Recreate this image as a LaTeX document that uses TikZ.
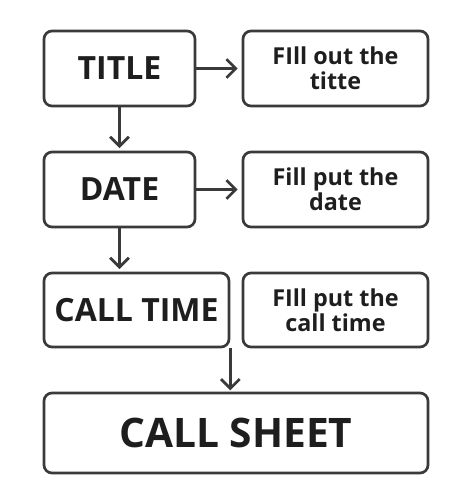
\documentclass[tikz,border=0pt]{standalone}
\usepackage{fontspec}
\setmainfont{Open Sans}
\usetikzlibrary{arrows.meta}
\definecolor{inkline}{RGB}{58,58,58}
\definecolor{inktext}{RGB}{30,30,30}
\tikzset{every picture/.style={line width=2pt}}
\tikzset{
	stepbox/.style={draw=inkline, rounded corners=6pt, align=center, text=inktext, inner sep=0pt},
	bigbox/.style={stepbox, minimum width=113.25pt, minimum height=56.25pt, font=\fontsize{24}{26}\selectfont\bfseries},
	notebox/.style={stepbox, minimum width=138.75pt, minimum height=56.25pt, font=\fontsize{17.5}{19}\selectfont\bfseries},
	flow/.style={draw=inkline, -{Straight Barb[length=7pt,width=14pt,line width=2pt]}},
}

\begin{document}
\begin{tikzpicture}[x=0.75pt,y=0.75pt,yscale=-1,xscale=1]
	\useasboundingbox (0,0) rectangle (461,497);

	% Text Node
	\node [bigbox] (title) at (119.5,68.5) {TITLE};
	% Text Node
	\node [notebox] (filltitle) at (335.5,68.5) {FIll out the\\titte};
	% Text Node
	\node [bigbox] (date) at (119.5,189.5) {DATE};
	% Text Node
	\node [notebox] (filldate) at (335.5,189.5) {Fill put the\\date};
	% Text Node
	\node [bigbox, minimum width=138.75pt, minimum height=55.5pt] (calltime) at (136.5,310) {CALL TIME};
	% Text Node
	\node [notebox, minimum height=55.5pt] (fillcall) at (335.5,310) {FIll put the\\call time};
	% Text Node
	\node [stepbox, minimum width=288pt, minimum height=60pt, font=\fontsize{30.5}{32}\selectfont\bfseries] (callsheet) at (236,433) {CALL SHEET};

	%Straight Lines
	\draw [flow, shorten >=3pt] (title) -- (filltitle);
	\draw [flow, shorten >=3pt] (date) -- (filldate);
	\draw [flow, shorten >=2pt] (title) -- (date);
	\draw [flow, shorten >=2pt] (date.south) -- (date.south |- calltime.north);
	\draw [flow, shorten >=1pt] (calltime.south east) -- (calltime.south east |- callsheet.north);

\end{tikzpicture}
\end{document}
